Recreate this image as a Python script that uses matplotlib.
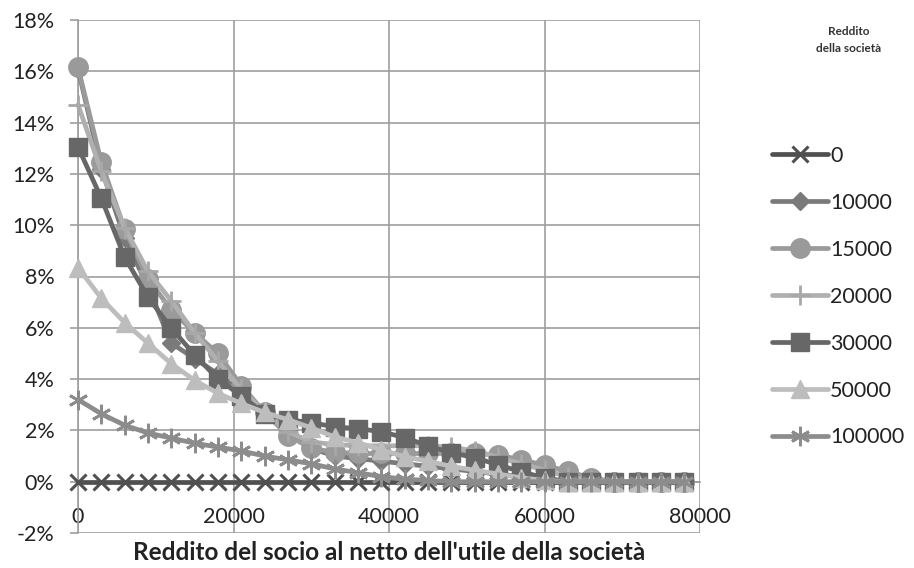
import matplotlib
matplotlib.use("Agg")
import matplotlib.pyplot as plt
from matplotlib.ticker import FuncFormatter

# ---- data ----
x_vals = [0, 3000, 6000, 9000, 12000, 15000, 18000, 21000, 24000, 27000, 30000,
          33000, 36000, 39000, 42000, 45000, 48000, 51000, 54000, 57000, 60000,
          63000, 66000, 69000, 72000, 75000, 78000]

series_names = ["0", "10000", "15000", "20000", "30000", "50000", "100000"]

s_0 = [0, 0, 0, 0, 0, 0, 0, 0, 0, 0, 0, 0, 0, 0, 0, 0, 0, 0, 0, 0, 0, 0, 0, 0, 0, 0, 0]
s_10000 = [16.1, 12.2, 9.5, 7.6, 5.4, 4.8, 4.2, 3.5, 2.7, 2.0, 1.3, 1.0, 0.9, 0.8, 0.7,
           0.6, 0.5, 0.4, 0.3, 0.2, 0.1, 0, 0, 0, 0, 0, 0]
s_15000 = [16.15, 12.45, 9.85, 7.9, 6.7, 5.8, 5.0, 3.75, 2.7, 1.8, 1.3, 1.15, 1.1, 1.1,
           1.1, 1.1, 1.1, 1.1, 1.05, 0.85, 0.65, 0.4, 0.15, 0, 0, 0, 0]
s_20000 = [14.7, 12.1, 9.9, 8.2, 7.05, 5.8, 4.7, 3.6, 2.7, 1.95, 1.55, 1.45, 1.4, 1.4,
           1.4, 1.4, 1.35, 1.2, 0.95, 0.7, 0.45, 0.2, 0.05, 0, 0, 0, 0]
s_30000 = [13.05, 11.05, 8.75, 7.2, 5.98, 4.95, 4.0, 3.35, 2.65, 2.42, 2.3, 2.14, 2.07,
           1.95, 1.72, 1.4, 1.13, 0.94, 0.66, 0.39, 0.15, 0, 0, 0, 0, 0, 0]
s_50000 = [8.35, 7.15, 6.2, 5.4, 4.6, 3.95, 3.45, 3.05, 2.7, 2.42, 2.1, 1.75, 1.52,
           1.25, 0.97, 0.8, 0.6, 0.45, 0.3, 0.15, 0.05, 0, 0, 0, 0, 0, 0]
s_100000 = [3.2, 2.65, 2.2, 1.9, 1.7, 1.5, 1.35, 1.2, 1.0, 0.85, 0.7, 0.5, 0.35, 0.2,
            0.1, 0.05, 0, 0, 0, 0, 0, 0, 0, 0, 0, 0, 0]

x_ticks = [0, 20000, 40000, 60000, 80000]
x_tick_labels = ["0", "20000", "40000", "60000", "80000"]
y_ticks = [-2, 0, 2, 4, 6, 8, 10, 12, 14, 16, 18]

x_label = "Reddito del socio al netto dell'utile della società"
legend_title = "Reddito\ndella società"

# ---- style ----
plt.rcParams['font.family'] = ['Lato', 'DejaVu Sans']

fig = plt.figure(figsize=(9.14, 5.68), dpi=100)
ax = fig.add_axes([78 / 914, 35 / 568, (700 - 78) / 914, (533 - 20) / 568])

styles = [
    dict(color="#505050", marker="x", ms=11, mew=2.2, mec="#505050", mfc="#505050"),
    dict(color="#7a7a7a", marker="D", ms=9, mew=1, mec="#7a7a7a", mfc="#7a7a7a"),
    dict(color="#9a9a9a", marker="o", ms=14, mew=1, mec="#9a9a9a", mfc="#9a9a9a"),
    dict(color="#b0b0b0", marker="+", ms=15, mew=2, mec="#a8a8a8", mfc="#a8a8a8"),
    dict(color="#676767", marker="s", ms=13, mew=1, mec="#676767", mfc="#676767"),
    dict(color="#bdbdbd", marker="^", ms=13, mew=1, mec="#bdbdbd", mfc="#bdbdbd"),
    dict(color="#8c8c8c", marker=(6, 2, 0), ms=14, mew=2, mec="#8c8c8c", mfc="#8c8c8c"),
]
all_series = [s_0, s_10000, s_15000, s_20000, s_30000, s_50000, s_100000]

handles = []
for i, (name, ys, st) in enumerate(zip(series_names, all_series, styles)):
    h, = ax.plot(x_vals, ys, label=name, lw=3.4, zorder=3 + i, clip_on=False,
                 solid_capstyle='round', **st)
    handles.append(h)

ax.set_xlim(0, 80000)
ax.set_ylim(-2, 18)
ax.set_xticks(x_ticks)
ax.set_xticklabels(x_tick_labels)
ax.set_yticks(y_ticks)
ax.yaxis.set_major_formatter(FuncFormatter(lambda v, p: f"{v:.0f}%"))

ax.grid(True, color="#9e9e9e", lw=1.2, zorder=0)
ax.set_axisbelow(True)
for sp in ["top", "right"]:
    ax.spines[sp].set_visible(False)
ax.spines["bottom"].set_position(("data", 0))
ax.spines["bottom"].set_color("#9e9e9e")
ax.spines["bottom"].set_linewidth(1.2)
ax.spines["left"].set_color("#9e9e9e")
ax.spines["left"].set_linewidth(1.2)

ax.tick_params(axis="y", length=6, width=1.2, color="#9e9e9e", pad=11,
               labelsize=15.5, labelcolor="#222222")
ax.tick_params(axis="x", length=0, pad=18, labelsize=15.5, labelcolor="#222222")

fig.text(389 / 914, 1 - 552 / 568, x_label, ha="center", va="center",
         fontsize=17.5, fontweight="bold", color="#222222")

fig.text(849 / 914, 1 - 40 / 568, legend_title, ha="center", va="center",
         fontsize=8.5, fontweight="bold", color="#333333", linespacing=1.7)

leg = fig.legend(handles=handles, loc="upper left",
                 bbox_to_anchor=(772 / 914, 1 - 146 / 568), frameon=False,
                 fontsize=15.5, handlelength=2.6, handletextpad=0.1,
                 labelspacing=1.25, borderpad=0, borderaxespad=0)
for t in leg.get_texts():
    t.set_color("#222222")

fig.savefig("out.png", dpi=100)
